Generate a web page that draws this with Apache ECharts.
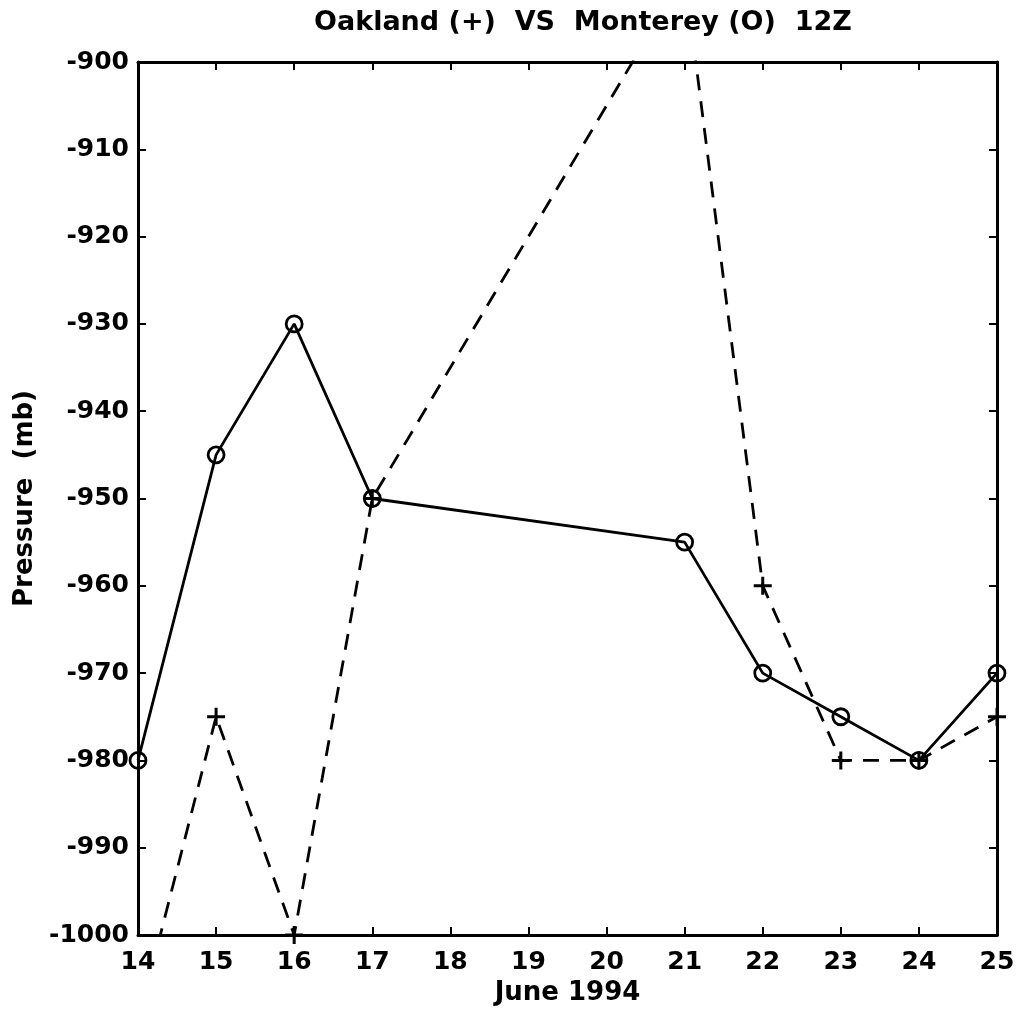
<!DOCTYPE html>
<html>
<head>
<meta charset="utf-8">
<script src="https://cdn.jsdelivr.net/npm/echarts@6/dist/echarts.min.js"></script>
<style>
html,body{margin:0;padding:0;background:#fff;}
#chart{width:1019px;height:1017px;}
</style>
</head>
<body>
<div id="chart"></div>
<script>
// Data
const titleText = 'Oakland (+)  VS  Monterey (O)  12Z';
const xName = 'June 1994';
const yName = 'Pressure  (mb)';
const days = [14, 15, 16, 17, 21, 22, 23, 24, 25];
const montereyValues = [-980, -945, -930, -950, -955, -970, -975, -980, -970];
const oaklandValues = [-1010, -975, -1000, -950, -890, -960, -980, -980, -975];
const xTickLabels = ['14','15','16','17','18','19','20','21','22','23','24','25'];
const yTickLabels = ['-1000','-990','-980','-970','-960','-950','-940','-930','-920','-910','-900'];

const FONT = 'DejaVu Sans';
const WEIGHT = 'bold';
const plus = 'path://M-1.5,-9H1.5V-1.5H9V1.5H1.5V9H-1.5V1.5H-9V-1.5H-1.5Z';

function pairs(xs, ys) { return xs.map((x, i) => [x, ys[i]]); }

const chart = echarts.init(document.getElementById('chart'), null, {renderer: 'canvas'});
const axisLine = {show: true, onZero: false, lineStyle: {color: '#000', width: 3}};
const axisTick = {show: true, inside: true, length: 8, lineStyle: {color: '#000', width: 2}};

chart.setOption({
  backgroundColor: '#fff',
  animation: false,
  title: {
    text: titleText,
    left: 309,
    top: 4,
    textStyle: {fontFamily: FONT, fontSize: 27, fontWeight: WEIGHT, color: '#000'}
  },
  grid: {left: 138, top: 62, right: 22, bottom: 82, containLabel: false},
  xAxis: [{
    type: 'value', min: 14, max: 25, interval: 1, position: 'bottom',
    axisLine: axisLine, axisTick: axisTick, splitLine: {show: false},
    axisLabel: {
      fontFamily: FONT, fontSize: 25, fontWeight: WEIGHT, color: '#000', margin: 15,
      formatter: v => xTickLabels[Math.round(v - 14)]
    },
    name: xName, nameLocation: 'middle', nameGap: 45,
    nameTextStyle: {fontFamily: FONT, fontSize: 26, fontWeight: WEIGHT, color: '#000'}
  }, {
    type: 'value', min: 14, max: 25, interval: 1, position: 'top',
    axisLine: axisLine, axisTick: axisTick, splitLine: {show: false},
    axisLabel: {show: false}
  }],
  yAxis: [{
    type: 'value', min: -1000, max: -900, interval: 10, position: 'left',
    axisLine: axisLine, axisTick: axisTick, splitLine: {show: false},
    axisLabel: {
      fontFamily: FONT, fontSize: 25, fontWeight: WEIGHT, color: '#000', margin: 9,
      formatter: v => yTickLabels[Math.round((v + 1000) / 10)]
    },
    name: yName, nameLocation: 'middle', nameGap: 98, nameRotate: 90,
    nameTextStyle: {fontFamily: FONT, fontSize: 26, fontWeight: WEIGHT, color: '#000'}
  }, {
    type: 'value', min: -1000, max: -900, interval: 10, position: 'right',
    axisLine: axisLine, axisTick: axisTick, splitLine: {show: false},
    axisLabel: {show: false}
  }],
  series: [{
    name: 'Oakland',
    type: 'line',
    data: pairs(days, oaklandValues),
    clip: true,
    symbol: plus,
    symbolSize: 18,
    itemStyle: {color: '#000'},
    lineStyle: {color: '#000', width: 2.8, type: [16, 11]},
    z: 3
  }, {
    name: 'Monterey',
    type: 'line',
    data: pairs(days, montereyValues),
    clip: true,
    symbol: 'circle',
    symbolSize: 16,
    itemStyle: {color: 'rgba(0,0,0,0)', borderWidth: 2.8, borderColor: '#000'},
    lineStyle: {color: '#000', width: 2.8},
    z: 4
  }]
});
</script>
</body>
</html>
